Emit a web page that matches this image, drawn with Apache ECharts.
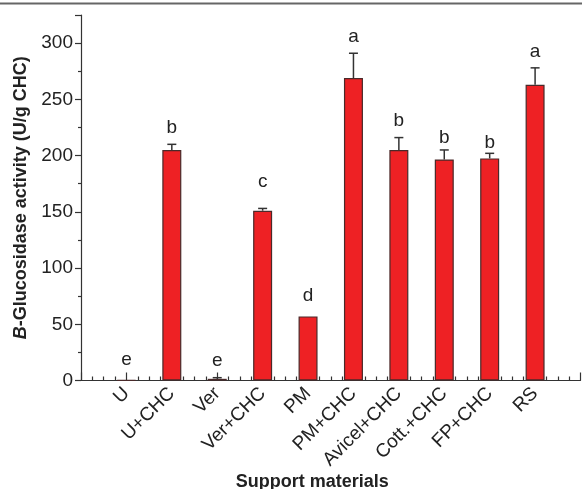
<!DOCTYPE html>
<html><head><meta charset="utf-8">
<script src="https://cdn.jsdelivr.net/npm/echarts@6/dist/echarts.min.js"></script>
<style>html,body{margin:0;padding:0;background:#fff}#c{width:582px;height:489px}</style>
</head><body><div id="c"></div>
<script>
const categories = ['U','U+CHC','Ver','Ver+CHC','PM','PM+CHC','Avicel+CHC','Cott.+CHC','FP+CHC','RS'];
const positions = [1,2,3,4,5,6,7,8,9,10];
const means = [0.4, 205, 1.5, 151, 57, 269, 205, 196.5, 197.5, 263];
const errTops = [null, 210, 2.5, 153, null, 291, 216, 205, 202, 278];
const letters = ['e','b','e','c','d','a','b','b','b','a'];
const letterY = [18, 225, 17.5, 177, 75, 306, 231, 215.5, 211.5, 292.5];

const chart = echarts.init(document.getElementById('c'));
const FONT = 'Liberation Sans, Arial, Helvetica, sans-serif';

chart.setOption({
  animation: false,
  grid: {left: 81, top: 15, right: 1.5, bottom: 108.5, containLabel: false, outerBoundsMode: 'none'},
  graphic: [
    {type:'line', shape:{x1:0,y1:3.5,x2:582,y2:3.5}, style:{stroke:'#666', lineWidth:2}}
  ],
  xAxis: {
    type: 'value', min: 0, max: 11, interval: 1,
    name: 'Support materials', nameLocation: 'middle', nameGap: 93, nameMoveOverlap: false,
    nameTextStyle: {fontFamily: FONT, fontSize: 18, fontWeight: 'bold', color: '#222', padding: [0, 37, 0, 0]},
    axisLine: {lineStyle: {color: '#333', width: 1.2}},
    axisTick: {inside: true, length: 8, lineStyle: {color: '#333', width: 1.2}},
    minorTick: {show: true, splitNumber: 4, length: 4, lineStyle: {color: '#333', width: 1.2}},
    splitLine: {show: false},
    axisLabel: {
      rotate: 45, margin: 10, fontFamily: FONT, fontSize: 19, color: '#222',
      formatter: v => { const i = positions.indexOf(v); return i >= 0 ? categories[i] : ''; }
    }
  },
  yAxis: {
    type: 'value', min: 0, max: 325, interval: 50,
    name: '{i|B}{b|-Glucosidase activity (U/g CHC)}', nameLocation: 'middle', nameGap: 51, nameMoveOverlap: false,
    nameTextStyle: {rich: {
      i: {fontFamily: FONT, fontSize: 18, fontWeight: 'bold', fontStyle: 'italic', color: '#222'},
      b: {fontFamily: FONT, fontSize: 18, fontWeight: 'bold', color: '#222'}
    }},
    axisLine: {show: true, lineStyle: {color: '#333', width: 1.2}},
    axisTick: {show: true, length: 6, lineStyle: {color: '#333', width: 1.2}},
    minorTick: {show: true, splitNumber: 2, length: 3, lineStyle: {color: '#333', width: 1.2}},
    splitLine: {show: false},
    axisLabel: {margin: 8, fontFamily: FONT, fontSize: 19, color: '#222',
      formatter: v => (v % 50 === 0 ? String(v) : '')}
  },
  series: [
    {
      type: 'bar', barWidth: 19,
      data: positions.map((p, i) => [p, means[i]]),
      itemStyle: {color: '#EE2124', borderColor: '#4a2a2a', borderWidth: 1.2}
    },
    {
      type: 'custom',
      data: positions.map((p, i) => [p, means[i], errTops[i]]).filter(d => d[2] !== null),
      renderItem: (params, api) => {
        const x = api.value(0);
        const b = api.coord([x, api.value(1)]);
        const t = api.coord([x, api.value(2)]);
        return {type: 'group', children: [
          {type: 'line', shape: {x1: b[0], y1: b[1], x2: t[0], y2: t[1]}, style: {stroke: '#333', lineWidth: 1.5}},
          {type: 'line', shape: {x1: t[0]-4.5, y1: t[1], x2: t[0]+4.5, y2: t[1]}, style: {stroke: '#333', lineWidth: 1.5}}
        ]};
      },
      z: 3
    },
    {
      type: 'custom',
      data: positions.map((p, i) => [p, letterY[i], i]),
      renderItem: (params, api) => {
        const c = api.coord([api.value(0), api.value(1)]);
        return {type: 'text', x: c[0], y: c[1], style: {text: letters[api.value(2)], fontFamily: FONT, fontSize: 19, fill: '#222', align: 'center', verticalAlign: 'middle'}};
      },
      z: 4
    }
  ]
});
</script></body></html>
